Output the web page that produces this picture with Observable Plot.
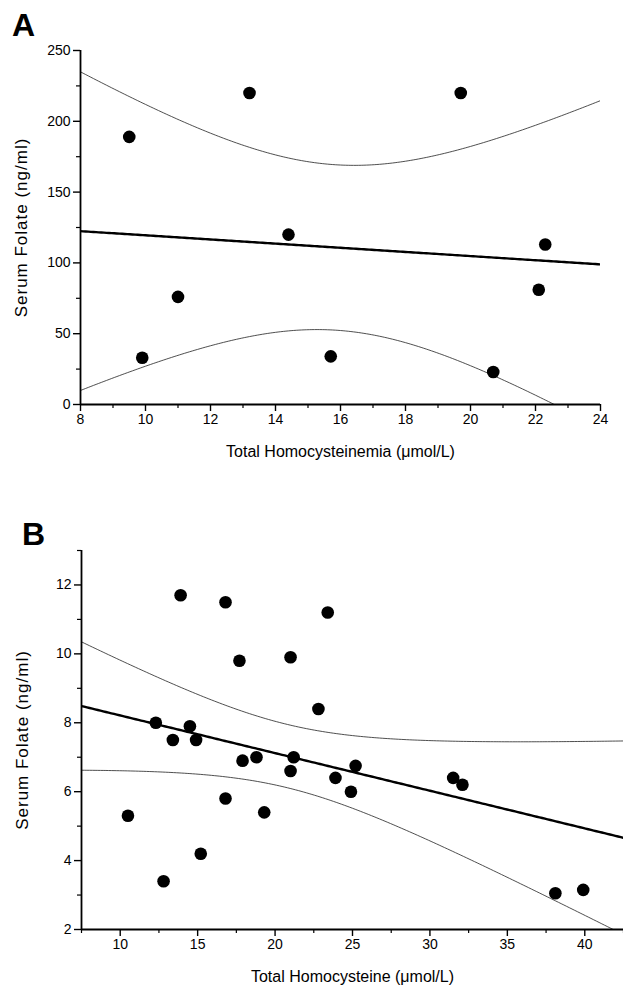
<!DOCTYPE html>
<html><head><meta charset="utf-8">
<script src="https://cdn.jsdelivr.net/npm/d3@7"></script>
<script src="https://cdn.jsdelivr.net/npm/@observablehq/plot@0.6"></script>
<style>
body{margin:0;background:#fff;width:623px;height:990px;overflow:hidden;position:relative;font-family:"Liberation Sans",Arial,sans-serif}
.panel{position:absolute;left:0;z-index:1}
.lab{position:absolute;font-weight:bold;font-size:32px;line-height:1;color:#000;z-index:2}
svg [aria-label="x-axis label"] text{font-size:16px}
svg [aria-label="y-axis label"] text{font-size:17px;letter-spacing:1px}
</style></head><body>
<div class="lab" style="left:12px;top:9px">A</div>
<div class="lab" style="left:22px;top:518px">B</div>
<div id="pa" class="panel" style="top:0"></div>
<div id="pb" class="panel" style="top:480px"></div>
<script>
// Panel A data
const aHcy    = [9.5, 13.2, 19.7, 14.4, 22.3, 11.0, 22.1, 9.9, 15.7, 20.7];
const aFolate = [189, 220, 220, 120, 113, 76, 81, 33, 34, 23];
const aXTicks = [8, 10, 12, 14, 16, 18, 20, 22, 24];
const aXMinor = [9, 11, 13, 15, 17, 19, 21, 23];
const aYTicks = [0, 50, 100, 150, 200, 250];
const aYMinor = [25, 75, 125, 175, 225];

// Panel B data
const bHcy    = [13.9, 16.8, 23.4, 17.7, 21.0, 22.8, 12.3, 14.5, 13.4, 14.9, 17.9, 18.8, 21.2, 21.0, 23.9, 25.2, 24.9, 31.5, 32.1, 16.8, 19.3, 10.5, 15.2, 12.8, 38.1, 39.9];
const bFolate = [11.7, 11.5, 11.2, 9.8, 9.9, 8.4, 8.0, 7.9, 7.5, 7.5, 6.9, 7.0, 7.0, 6.6, 6.4, 6.75, 6.0, 6.4, 6.2, 5.8, 5.4, 5.3, 4.2, 3.4, 3.05, 3.15];
const bXTicks = [10, 15, 20, 25, 30, 35, 40];
const bXMinor = [7.5, 12.5, 17.5, 22.5, 27.5, 32.5, 37.5, 42.5];
const bYTicks = [2, 4, 6, 8, 10, 12];
const bYMinor = [3, 5, 7, 9, 11, 13];

const xTitleA = "Total Homocysteinemia (\u03bcmol/L)";
const xTitleB = "Total Homocysteine (\u03bcmol/L)";
const yTitle = "Serum Folate (ng/ml)";

// two-sided 95% Student t critical values by degrees of freedom
const tCrit = {8: 2.306, 24: 2.064};

// least-squares fit with 95% confidence band of the mean, over the axis domain
function regression(xs, ys, domain) {
  const n = xs.length, mx = d3.mean(xs), my = d3.mean(ys);
  const sxx = d3.sum(xs, x => (x - mx) ** 2);
  const sxy = d3.sum(xs, (x, i) => (x - mx) * (ys[i] - my));
  const b = sxy / sxx, a = my - b * mx;
  const s = Math.sqrt(d3.sum(xs, (x, i) => (ys[i] - a - b * x) ** 2) / (n - 2));
  const t = tCrit[n - 2];
  const [x0, x1] = domain;
  return d3.range(0, 201).map(k => {
    const x = x0 + (x1 - x0) * k / 200, f = a + b * x;
    const h = t * s * Math.sqrt(1 / n + (x - mx) ** 2 / sxx);
    return {x, fit: f, lo: f - h, hi: f + h};
  });
}

function panel(xs, ys, o) {
  const pts = xs.map((x, i) => ({x, y: ys[i]}));
  const reg = regression(xs, ys, o.xDomain);
  return Plot.plot({
    width: 623, height: o.height,
    marginLeft: o.ml, marginRight: o.mr, marginTop: o.mt, marginBottom: o.mb,
    x: {domain: o.xDomain}, y: {domain: o.yDomain},
    style: {fontFamily: "'Liberation Sans', Arial, sans-serif", fontSize: "14px", color: "#000", background: "transparent", overflow: "visible"},
    marks: [
      Plot.line(reg, {x: "x", y: "hi", stroke: "#222", strokeWidth: 0.8, clip: true}),
      Plot.line(reg, {x: "x", y: "lo", stroke: "#222", strokeWidth: 0.8, clip: true}),
      Plot.line(reg, {x: "x", y: "fit", stroke: "#000", strokeWidth: 2.4, clip: true}),
      Plot.dot(pts, {x: "x", y: "y", r: 6.3, fill: "#000", stroke: "none"}),
      Plot.axisX(o.xTicks, {tickSize: 7, tickPadding: 3, strokeWidth: 1.4, label: o.xTitle, labelAnchor: "center", labelArrow: "none", labelOffset: o.xLabelOffset}),
      Plot.axisX(o.xMinor, {tickSize: 4, strokeWidth: 1.2, tickFormat: () => "", label: null}),
      Plot.axisY(o.yTicks, {tickSize: 7, tickPadding: 3, strokeWidth: 1.4, label: yTitle, labelAnchor: "center", labelArrow: "none", labelOffset: o.yLabelOffset}),
      Plot.axisY(o.yMinor, {tickSize: 4, strokeWidth: 1.2, tickFormat: () => "", label: null}),
      Plot.ruleY([o.yDomain[0]], {stroke: "#000", strokeWidth: 1.8}),
      Plot.ruleX([o.xDomain[0]], {stroke: "#000", strokeWidth: 1.8})
    ]
  });
}

document.getElementById("pa").append(panel(aHcy, aFolate, {
  height: 470, ml: 80, mr: 23, mt: 50, mb: 66,
  xDomain: [aXTicks[0], aXTicks[aXTicks.length - 1]], yDomain: [aYTicks[0], aYTicks[aYTicks.length - 1]],
  xTicks: aXTicks, xMinor: aXMinor, yTicks: aYTicks, yMinor: aYMinor,
  xTitle: xTitleA, xLabelOffset: 52, yLabelOffset: 66
}));

document.getElementById("pb").append(panel(bHcy, bFolate, {
  height: 510, ml: 81, mr: 0, mt: 70, mb: 61,
  xDomain: [bXMinor[0], bXMinor[bXMinor.length - 1]], yDomain: [bYTicks[0], bYMinor[bYMinor.length - 1]],
  xTicks: bXTicks, xMinor: bXMinor, yTicks: bYTicks, yMinor: bYMinor,
  xTitle: xTitleB, xLabelOffset: 52, yLabelOffset: 66
}));
</script>
</body></html>
